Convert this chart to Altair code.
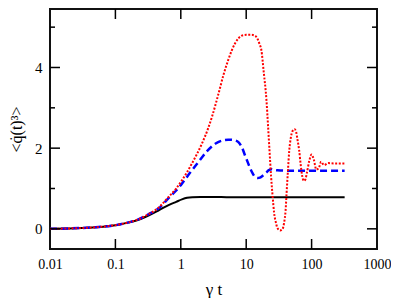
import altair as alt
import pandas as pd

# ---- data ----
t_black = [0.01, 0.02, 0.03, 0.05, 0.07, 0.1, 0.16, 0.22, 0.32, 0.46, 0.65, 0.85, 1.04, 1.25, 1.5, 2, 3, 5, 10, 30, 100, 320]
v_black = [0.0, 0.01, 0.02, 0.04, 0.06, 0.09, 0.16, 0.22, 0.33, 0.46, 0.59, 0.67, 0.73, 0.77, 0.785, 0.79, 0.79, 0.785, 0.78, 0.78, 0.78, 0.78]

t_blue = [0.01, 0.02, 0.05, 0.1, 0.16, 0.22, 0.32, 0.46, 0.65, 0.85, 1.04, 1.4, 1.87, 2.5, 3.36, 4.3, 5.3, 6.5, 7.6, 8.6, 9.6, 10.5, 11.5, 12.5, 13.6, 15, 16.2, 18, 20.4, 22, 24.3, 27, 30, 50, 100, 320]
v_blue = [0.0, 0.01, 0.04, 0.09, 0.16, 0.23, 0.36, 0.51, 0.76, 0.95, 1.12, 1.4, 1.66, 1.92, 2.11, 2.19, 2.21, 2.2, 2.15, 2.02, 1.82, 1.66, 1.5, 1.38, 1.29, 1.26, 1.27, 1.32, 1.40, 1.45, 1.48, 1.46, 1.45, 1.44, 1.44, 1.44]

t_red = [0.01, 0.02, 0.05, 0.1, 0.16, 0.22, 0.32, 0.46, 0.65, 0.85, 1.04, 1.48, 2.1, 2.63, 3.0, 3.77, 4.5, 5.35, 6.0, 6.76, 7.6, 8.54, 10, 12, 13.6, 15, 16, 17.1, 18.5, 20.4, 21.5, 22.7, 24, 25.4, 26.7, 28.5, 30, 33, 36, 38, 40, 41.5, 43.5, 45.6, 48, 51, 55, 58, 61, 64.5, 68, 72, 76, 80, 85, 92, 100, 108, 118, 128, 140, 155, 180, 220, 320]
v_red = [0.0, 0.01, 0.04, 0.09, 0.16, 0.23, 0.36, 0.53, 0.79, 1.0, 1.2, 1.62, 2.11, 2.5, 2.78, 3.35, 3.82, 4.2, 4.42, 4.6, 4.72, 4.79, 4.81, 4.81, 4.79, 4.7, 4.58, 4.42, 3.9, 3.19, 2.6, 1.95, 1.3, 0.79, 0.4, 0.15, 0.02, -0.04, 0.0, 0.15, 0.45, 0.9, 1.45, 1.95, 2.25, 2.42, 2.47, 2.4, 2.2, 1.95, 1.6, 1.3, 1.19, 1.22, 1.4, 1.68, 1.84, 1.72, 1.47, 1.5, 1.66, 1.58, 1.63, 1.62, 1.62]

x_ticks = [0.01, 0.1, 1, 10, 100, 1000]
x_inner_ticks = [0.1, 1, 10, 100]
y_major = [0, 2, 4]
y_minor = [1, 3, 5]

W, H = 327, 240
FONT = "Liberation Serif"

xs = alt.Scale(type="log", domain=[0.01, 1000], nice=False)
ys = alt.Scale(domain=[-0.5, 5.45], nice=False, zero=False)

x_axis = alt.Axis(values=x_ticks, format="~g", ticks=False, tickSize=0, domain=False, grid=False,
                  labelPadding=8, labelFont=FONT, labelFontSize=14, labelColor="black",
                  titleFont=FONT, titleFontSize=17, titleFontWeight="normal", titleColor="black",
                  titleBaseline="alphabetic", titleY=45, labelFlush=False)
y_axis = alt.Axis(values=y_major, format="d", ticks=False, tickSize=0, domain=False, grid=False,
                  labelPadding=8, labelFont=FONT, labelFontSize=15, labelColor="black",
                  titleFont=FONT, titleFontSize=16, titleFontWeight="normal", titleColor="black",
                  titleAngle=-90, titleBaseline="alphabetic", titleX=-29, titleY=H / 2,
                  titleAlign="center")

X = alt.X("t:Q", scale=xs, title="γ t", axis=x_axis)
Y = alt.Y("v:Q", scale=ys, title="<q̇(t)³>", axis=y_axis)

df_black = pd.DataFrame({"t": t_black, "v": v_black})
df_blue = pd.DataFrame({"t": t_blue, "v": v_blue})
df_red = pd.DataFrame({"t": t_red, "v": v_red})
df_xt = pd.DataFrame({"t": x_inner_ticks})
df_ymaj = pd.DataFrame({"v": y_major})
df_ymin = pd.DataFrame({"v": y_minor})

black = alt.Chart(df_black).mark_line(color="black", strokeWidth=2, interpolate="monotone").encode(x=X, y=Y)
blue = alt.Chart(df_blue).mark_line(color="#0000ff", strokeWidth=2.5, strokeDash=[7, 4],
                                    interpolate="monotone").encode(x=X, y=Y)
red = alt.Chart(df_red).mark_line(color="#ff0000", strokeWidth=2, strokeDash=[2, 1.6],
                                  interpolate="monotone").encode(x=X, y=Y)

tick_style = dict(color="black", strokeWidth=1.5)
xt_bottom = alt.Chart(df_xt).mark_rule(**tick_style).encode(x=X, y=alt.value(H), y2=alt.value(H - 10))
xt_top = alt.Chart(df_xt).mark_rule(**tick_style).encode(x=X, y=alt.value(0), y2=alt.value(10))
yt_left_maj = alt.Chart(df_ymaj).mark_rule(**tick_style).encode(y=Y, x=alt.value(0), x2=alt.value(10))
yt_left_min = alt.Chart(df_ymin).mark_rule(**tick_style).encode(y=Y, x=alt.value(0), x2=alt.value(5))
yt_right_maj = alt.Chart(df_ymaj).mark_rule(**tick_style).encode(y=Y, x=alt.value(W), x2=alt.value(W - 10))
yt_right_min = alt.Chart(df_ymin).mark_rule(**tick_style).encode(y=Y, x=alt.value(W), x2=alt.value(W - 5))

chart = alt.layer(
    black, blue, red, xt_bottom, xt_top, yt_left_maj, yt_left_min, yt_right_maj, yt_right_min
).properties(
    width=W, height=H,
    autosize=alt.AutoSizeParams(type="none"),
    padding={"left": 42, "top": 1, "right": 14, "bottom": 49},
).configure_view(stroke="#111111", strokeWidth=2)

chart.save("out.html", embed_options={"renderer": "svg", "actions": False})
